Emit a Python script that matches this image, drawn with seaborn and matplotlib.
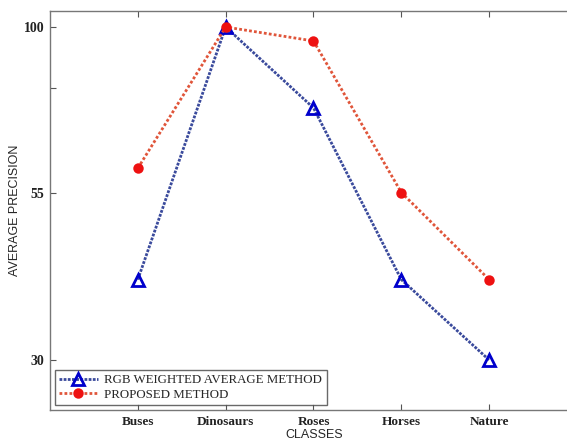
import numpy as np
import pandas as pd
import seaborn as sns
import matplotlib.pyplot as plt

classes = ["Buses", "Dinosaurs", "Roses", "Horses", "Nature"]
rgb_weighted = [42, 100, 78, 42, 30]
proposed = [61.6, 100, 96.2, 55, 42]
ytick_vals = [30, 55, 83.4, 100]
ytick_labels = ["30", "55", "", "100"]

# the original y axis is piecewise (equal spacing between 30, 55 and 100)
knot_vals = np.array([22.5, 30, 55, 100, 104.3])
knot_pos = np.array([-410, -360, -192.5, -27, -11])


def fwd(v):
    return np.interp(v, knot_vals, knot_pos)


def inv(p):
    return np.interp(p, knot_pos, knot_vals)


df = pd.DataFrame({
    "Class": classes * 2,
    "AP": rgb_weighted + proposed,
    "Method": ["RGB WEIGHTED AVERAGE METHOD"] * 5 + ["PROPOSED METHOD"] * 5,
})

sns.set_theme(style="ticks")
plt.rcParams["font.family"] = ["Liberation Serif", "DejaVu Serif"]

fig = plt.figure(figsize=(5.67, 4.4), dpi=100)
ax = fig.add_axes([50 / 567, 30 / 440, 527 / 567, 399 / 440])
ax.set_yscale("function", functions=(fwd, inv))

sub = df[df.Method == "RGB WEIGHTED AVERAGE METHOD"]
sns.lineplot(data=sub, x="Class", y="AP", ax=ax, color="#3a4a9c",
             linestyle=(0, (1, 0.5)), linewidth=2, marker="^",
             markersize=8, markerfacecolor="none", markeredgecolor="#0000cc",
             markeredgewidth=2, label="RGB WEIGHTED AVERAGE METHOD")
sub = df[df.Method == "PROPOSED METHOD"]
sns.lineplot(data=sub, x="Class", y="AP", ax=ax, color="#e0553a",
             linestyle=(0, (1, 0.8)), linewidth=2, marker="o",
             markersize=6, markerfacecolor="#ee1111", markeredgecolor="#ee1111",
             markeredgewidth=1.5, label="PROPOSED METHOD")

ax.set_xlim(-1, 5)
ax.set_ylim(22.5, 104.3)
ax.set_yticks(ytick_vals)
ax.set_yticklabels(ytick_labels)
ax.tick_params(direction="in", top=True, right=True, length=4, width=0.8,
               color="#555555", labelsize=9.5, pad=4)
ax.tick_params(axis="y", labelsize=10)
for lab in ax.get_xticklabels() + ax.get_yticklabels():
    lab.set_fontweight("bold")
    lab.set_color("#222222")
for s in ax.spines.values():
    s.set_color("#777777")
    s.set_linewidth(1)

ax.set_xlabel("CLASSES", family=["Liberation Sans"], fontsize=9)
ax.xaxis.set_label_coords((314 - 50) / 527, -19 / 399)
ax.set_ylabel("AVERAGE PRECISION", family=["Liberation Sans"], fontsize=9)
ax.yaxis.set_label_coords(-29 / 527, (410 - 210) / 399)

leg = ax.legend(loc="lower left", fontsize=9.3, frameon=True, fancybox=False,
                edgecolor="#444444", borderpad=0.35, labelspacing=0.2,
                handlelength=3.0, handletextpad=0.5, borderaxespad=0.35)
leg.get_frame().set_linewidth(1)

fig.savefig("out.png", dpi=100)
